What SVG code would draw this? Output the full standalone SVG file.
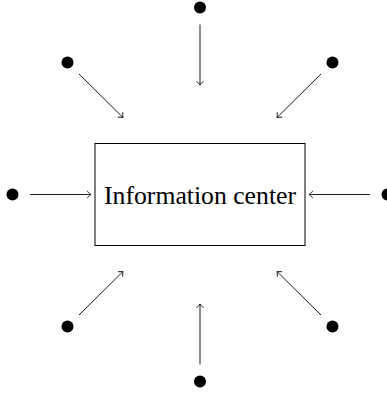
<svg xmlns="http://www.w3.org/2000/svg" width="387" height="397" viewBox="0 0 387 397">
  <style>
    .dot { fill: #000; }
    .box { fill: #fff; stroke: #000; stroke-width: 1; }
    .label { font-family: "Liberation Serif", "DejaVu Serif", serif; font-size: 25px; fill: #000; }
    .edge { fill: none; stroke: #000; stroke-width: 0.9; marker-end: url(#to); }
  </style>
  <defs>
    <marker id="to" markerUnits="userSpaceOnUse" markerWidth="10" markerHeight="10" viewBox="-5 -5 10 10" refX="0" refY="0" orient="auto" overflow="visible">
      <path d="M -3.6 -3.2 Q -0.9 -0.6 0 0 Q -0.9 0.6 -3.6 3.2" fill="none" stroke="#000" stroke-width="0.85" stroke-linecap="round"/>
    </marker>
  </defs>

  <g id="center">
    <rect class="box" x="95" y="143.5" width="210" height="102"/>
    <text class="label" x="200" y="203.5" text-anchor="middle" textLength="192" lengthAdjust="spacingAndGlyphs">Information center</text>
  </g>

  <g id="source-n"><circle class="dot" cx="200" cy="7.5" r="6"/></g>
  <g id="source-ne"><circle class="dot" cx="332.5" cy="62.5" r="6"/></g>
  <g id="source-e"><circle class="dot" cx="387.5" cy="194.5" r="6"/></g>
  <g id="source-se"><circle class="dot" cx="332.5" cy="326.5" r="6"/></g>
  <g id="source-s"><circle class="dot" cx="200" cy="381.5" r="6"/></g>
  <g id="source-sw"><circle class="dot" cx="67.5" cy="326.5" r="6"/></g>
  <g id="source-w"><circle class="dot" cx="12.5" cy="194.5" r="6"/></g>
  <g id="source-nw"><circle class="dot" cx="67.5" cy="62.5" r="6"/></g>

  <g id="connectors">
    <line class="edge" x1="200" y1="24.5" x2="200" y2="85"/>
    <line class="edge" x1="200" y1="364.5" x2="200" y2="304"/>
    <line class="edge" x1="30" y1="194.5" x2="91" y2="194.5"/>
    <line class="edge" x1="370" y1="194.5" x2="309" y2="194.5"/>
    <line class="edge" x1="79" y1="74" x2="123" y2="117.5"/>
    <line class="edge" x1="321" y1="74" x2="277" y2="117.5"/>
    <line class="edge" x1="79" y1="315" x2="123" y2="271.5"/>
    <line class="edge" x1="321" y1="315" x2="277" y2="271.5"/>
  </g>
</svg>
